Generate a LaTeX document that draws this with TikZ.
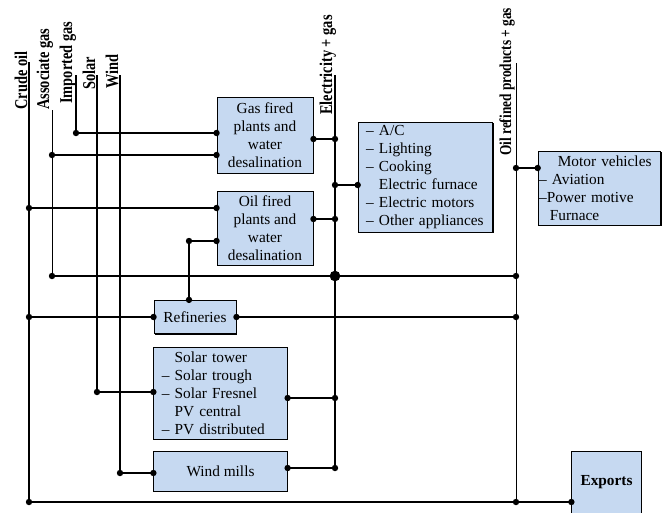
\documentclass[tikz,border=0pt]{standalone}
\usepackage{fontspec}
\setmainfont{Liberation Serif}
\newfontfamily\narrowserif[FakeStretch=0.8]{Liberation Serif}
\usetikzlibrary{positioning}
\usetikzlibrary{shadows}
\definecolor{boxblue}{RGB}{198,217,241}

\tikzset{
  unit/.style={draw, fill=boxblue, line width=0.7pt, inner sep=0pt, align=center,
    drop shadow={shadow xshift=0.7pt, shadow yshift=-0.7pt, fill=black, opacity=1},
    font=\fontsize{11.5}{13.5}\selectfont},
  listunit/.style={unit, align=left, inner xsep=6pt},
  srclabel/.style={rotate=90, anchor=base west, inner sep=0pt,
    font=\narrowserif\fontsize{13.5}{15}\selectfont\bfseries},
  flow/.style={line width=1.6pt},
  thinflow/.style={line width=0.75pt},
}

\begin{document}
\begin{tikzpicture}[x=0.75pt, y=-0.75pt]
    \useasboundingbox (0,0) rectangle (664,512);

    % plants and end uses
    \node[unit, minimum width=72pt, minimum height=57pt] (gasplant) at (265,135)
      {Gas fired\\plants and\\water\\desalination};
    \node[unit, minimum width=72pt, minimum height=55.5pt] (oilplant) at (265,228)
      {Oil fired\\plants and\\water\\desalination};
    \node[listunit, text width=89pt, minimum height=82.5pt] (uses) at (425.5,177)
      {-- A/C\\-- Lighting\\-- Cooking\\\phantom{--~}Electric furnace\\-- Electric motors\\-- Other appliances};
    \node[unit, align=left, inner xsep=0.75pt, text width=90.5pt, minimum height=55.5pt] (vehicles) at (599.5,188)
      {\hspace{14pt}Motor vehicles\\-- Aviation\\--Power motive\\\hspace{8pt}Furnace};
    \node[unit, minimum width=61.5pt, minimum height=25pt] (refineries) at (195,317) {Refineries};
    \node[listunit, text width=88pt, minimum height=69pt] (solarplant) at (220.5,393)
      {\phantom{--~}Solar tower\\-- Solar trough\\-- Solar Fresnel\\\phantom{--~}PV central\\-- PV distributed};
    \node[unit, minimum width=100pt, minimum height=30pt] (windmills) at (220.5,471) {Wind mills};
    \node[unit, minimum width=52pt, minimum height=47pt, font=\fontsize{11.5}{13.5}\selectfont\bfseries] (exports) at (606.5,482.5) {Exports};

    % sources and carriers
    \node[srclabel] (crude-l) at (27,110) {Crude oil};
    \node[srclabel] (assoc-l) at (49,110) {Associate gas};
    \node[srclabel] (imported-l) at (72,104) {Imported gas};
    \node[srclabel] (solar-l) at (95,90) {Solar};
    \node[srclabel] (wind-l) at (118,89) {Wind};
    \node[srclabel] (elec-l) at (332,115) {Electricity + gas};
    \node[srclabel, font=\narrowserif\fontsize{12.5}{14}\selectfont\bfseries] (oilprod-l) at (511,156) {Oil refined products + gas};

    \coordinate (crude) at (29,62);
    \coordinate (assoc) at (52,110);
    \coordinate (imported) at (76,75);
    \coordinate (solar) at (97,75);
    \coordinate (wind) at (120,75);
    \coordinate (elec) at (335,75);
    \coordinate (oilprod) at (516,63);

    \coordinate (crude-o) at (29,208);
    \coordinate (crude-x) at (29,502);
    \coordinate (assoc-g) at (52,155);
    \coordinate (assoc-b) at (52,276);
    \coordinate (imported-g) at (76,133);
    \coordinate (solar-s) at (97,392);
    \coordinate (wind-w) at (120,473);
    \coordinate (elec-b) at (335,468);
    \coordinate (ref-up) at (189,241);

    % crude oil
    \draw[flow] (crude) -- (crude-x) -- (exports.west |- crude-x) coordinate (exports-in);
    \draw[flow] (crude-o) -- (oilplant.west |- crude-o) coordinate (oilplant-in1);
    \draw[flow] (crude |- refineries.west) coordinate (crude-r) -- (refineries.west);
    \draw[flow] (refineries.east) -- (oilprod |- refineries.east) coordinate (oilprod-r);
    \draw[flow] (ref-up |- refineries.north) coordinate (ref-out) -- (ref-up) -- (oilplant.west |- ref-up) coordinate (oilplant-in2);

    % gas
    \draw[thinflow] (assoc) -- (assoc-b);
    \draw[flow] (assoc-g) -- (gasplant.west |- assoc-g) coordinate (gasplant-in2);
    \draw[flow] (assoc-b) -- (oilprod |- assoc-b) coordinate (oilprod-b);
    \draw[flow] (imported) -- (imported-g) -- (gasplant.west |- imported-g) coordinate (gasplant-in1);

    % renewables
    \draw[flow] (solar) -- (solar-s) -- (solarplant.west |- solar-s) coordinate (solarplant-in);
    \draw[flow] (wind) -- (wind-w) -- (windmills.west |- wind-w) coordinate (windmills-in);

    % electricity + gas
    \draw[flow] (elec) -- (elec-b);
    \draw[flow] (gasplant.east |- 0,139) coordinate (gasplant-out) -- (elec |- 0,139) coordinate (elec-1);
    \draw[flow] (elec |- 0,185) coordinate (elec-2) -- (uses.west |- 0,185) coordinate (uses-in);
    \draw[flow] (oilplant.east |- 0,219) coordinate (oilplant-out) -- (elec |- 0,219) coordinate (elec-3);
    \draw[flow] (solarplant.east |- 0,398) coordinate (solarplant-out) -- (elec |- 0,398) coordinate (elec-4);
    \draw[flow] (windmills.east |- elec-b) coordinate (windmills-out) -- (elec-b);

    % oil refined products + gas
    \draw[thinflow] (oilprod) -- (oilprod |- crude-x) coordinate (oilprod-x);
    \draw[flow] (oilprod |- 0,168) coordinate (oilprod-v) -- (vehicles.west |- 0,168) coordinate (vehicles-in);

    % junction dots
    \foreach \p in {crude-o, crude-r, crude-x, exports-in, oilplant-in1, oilplant-in2,
        ref-out, ref-up, refineries.west, refineries.east, oilprod-r, assoc-g, assoc-b,
        gasplant-in1, gasplant-in2, oilprod-b, imported-g, solar-s, solarplant-in,
        wind-w, windmills-in, gasplant-out, elec-1, elec-2, uses-in, oilplant-out, elec-3,
        solarplant-out, elec-4, windmills-out, elec-b, oilprod-x, oilprod-v, vehicles-in}
      \fill (\p) circle (2.4pt);
    \fill (elec |- assoc-b) circle (4pt);

\end{tikzpicture}
\end{document}
